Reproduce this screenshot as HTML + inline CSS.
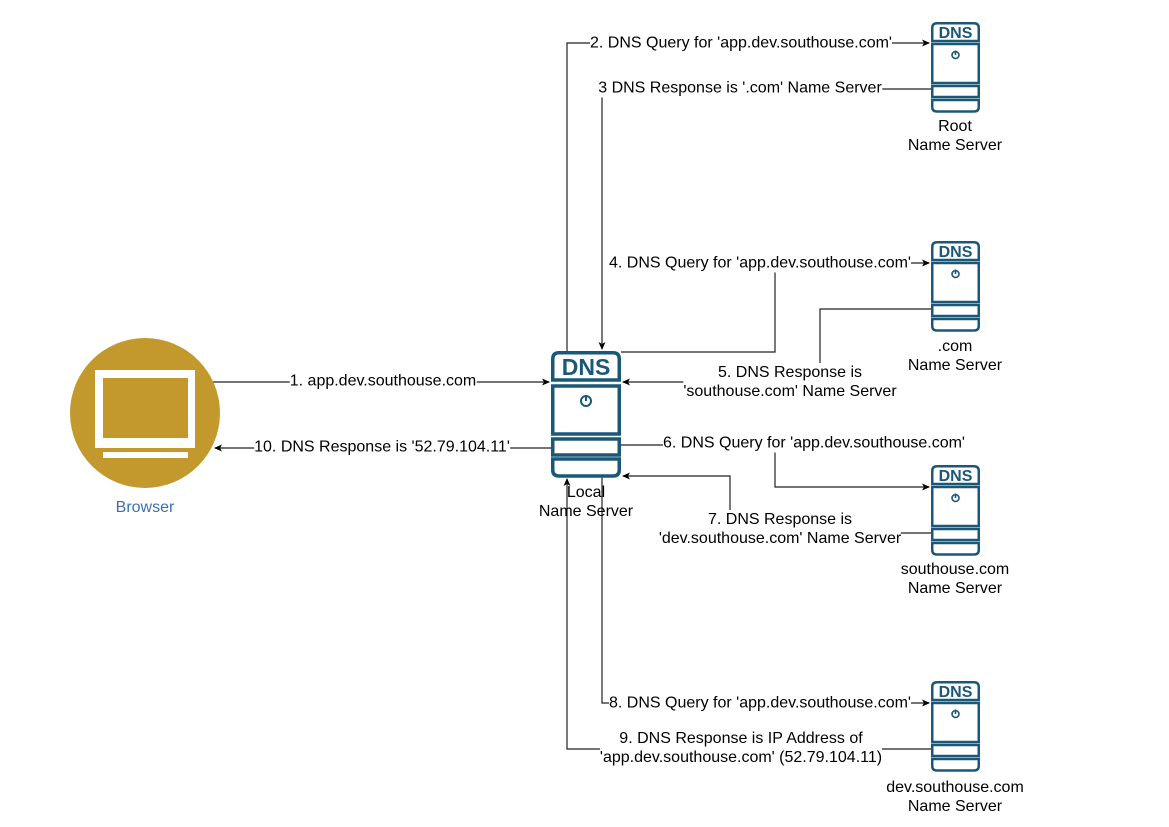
<!DOCTYPE html>
<html><head><meta charset="utf-8"><style>
body{margin:0;background:#fff;}
.wrap{position:relative;width:1169px;height:827px;overflow:hidden;font-family:"Liberation Sans",Arial,sans-serif;}
.t{position:absolute;font-size:16px;line-height:19px;color:#000;background:#fff;white-space:nowrap;text-align:center;transform:translate(-50%,-50%);}
.n{position:absolute;font-size:16px;line-height:19px;color:#000;white-space:nowrap;text-align:center;transform:translateX(-50%);}
</style></head><body><div class="wrap">
<svg width="1169" height="827" style="position:absolute;left:0;top:0">
<defs><marker id="a" markerWidth="8" markerHeight="8" refX="7" refY="4" orient="auto" markerUnits="userSpaceOnUse"><path d="M0,0.5 L8,4 L0,7.5 L2,4 Z" fill="#000"/></marker></defs>
<g fill="none" stroke="#222" stroke-width="1.2">
<polyline points="212,382 549,382" marker-end="url(#a)"/>
<polyline points="551,448 215,448" marker-end="url(#a)"/>
<polyline points="567,351 567,43 929,43" marker-end="url(#a)"/>
<polyline points="931,89 602,89 602,349" marker-end="url(#a)"/>
<polyline points="621,352 775,352 775,263 929,263" marker-end="url(#a)"/>
<polyline points="931,309 820,309 820,382 623,382" marker-end="url(#a)"/>
<polyline points="621,445 775,445 775,487 929,487" marker-end="url(#a)"/>
<polyline points="931,533 730,533 730,476 623,476" marker-end="url(#a)"/>
<polyline points="602,477 602,703 929,703" marker-end="url(#a)"/>
<polyline points="931,749 567,749 567,479" marker-end="url(#a)"/>
</g>
<circle cx="145" cy="413" r="75" fill="#c3992d"/>
<rect x="95" y="370" width="100" height="78" fill="#fff"/>
<rect x="103" y="378" width="85" height="60" fill="#c3992d"/>
<rect x="103" y="452" width="85" height="6" fill="#fff"/>
<g transform="translate(551,351)" fill="#fff" stroke="#1b5877" stroke-width="3.5">
<path d="M1.75,29 L1.75,8 Q1.75,1.75 8,1.75 L62,1.75 Q68.25,1.75 68.25,8 L68.25,29 Z"/>
<rect x="1.75" y="35" width="66.5" height="48"/>
<rect x="1.75" y="88" width="66.5" height="16"/>
<path d="M1.75,108 L68.25,108 L68.25,119 Q68.25,125 62,125 L8,125 Q1.75,125 1.75,119 Z"/>
<circle cx="35" cy="50" r="5" stroke-width="2"/>
<line x1="35" y1="44" x2="35" y2="50" stroke-width="2"/>
<text x="35" y="24" text-anchor="middle" font-family="Liberation Sans,Arial,sans-serif" font-weight="bold" font-size="23" fill="#1b5877" stroke="none">DNS</text>
</g>
<g transform="translate(931,22)" fill="#fff" stroke="#1b5877" stroke-width="2.5">
<path d="M1.25,19 L1.25,6 Q1.25,1.25 6,1.25 L43,1.25 Q47.75,1.25 47.75,6 L47.75,19 Z"/>
<rect x="1.25" y="22" width="46.5" height="39"/>
<rect x="1.25" y="64" width="46.5" height="11"/>
<path d="M1.25,78 L47.75,78 L47.75,85 Q47.75,89.5 43,89.5 L6,89.5 Q1.25,89.5 1.25,85 Z"/>
<circle cx="24.5" cy="33" r="3.5" stroke-width="1.6"/>
<line x1="24.5" y1="28.5" x2="24.5" y2="33" stroke-width="1.6"/>
<text x="24.5" y="16" text-anchor="middle" font-family="Liberation Sans,Arial,sans-serif" font-weight="bold" font-size="16" fill="#1b5877" stroke="none">DNS</text>
</g>
<g transform="translate(931,241)" fill="#fff" stroke="#1b5877" stroke-width="2.5">
<path d="M1.25,19 L1.25,6 Q1.25,1.25 6,1.25 L43,1.25 Q47.75,1.25 47.75,6 L47.75,19 Z"/>
<rect x="1.25" y="22" width="46.5" height="39"/>
<rect x="1.25" y="64" width="46.5" height="11"/>
<path d="M1.25,78 L47.75,78 L47.75,85 Q47.75,89.5 43,89.5 L6,89.5 Q1.25,89.5 1.25,85 Z"/>
<circle cx="24.5" cy="33" r="3.5" stroke-width="1.6"/>
<line x1="24.5" y1="28.5" x2="24.5" y2="33" stroke-width="1.6"/>
<text x="24.5" y="16" text-anchor="middle" font-family="Liberation Sans,Arial,sans-serif" font-weight="bold" font-size="16" fill="#1b5877" stroke="none">DNS</text>
</g>
<g transform="translate(931,465)" fill="#fff" stroke="#1b5877" stroke-width="2.5">
<path d="M1.25,19 L1.25,6 Q1.25,1.25 6,1.25 L43,1.25 Q47.75,1.25 47.75,6 L47.75,19 Z"/>
<rect x="1.25" y="22" width="46.5" height="39"/>
<rect x="1.25" y="64" width="46.5" height="11"/>
<path d="M1.25,78 L47.75,78 L47.75,85 Q47.75,89.5 43,89.5 L6,89.5 Q1.25,89.5 1.25,85 Z"/>
<circle cx="24.5" cy="33" r="3.5" stroke-width="1.6"/>
<line x1="24.5" y1="28.5" x2="24.5" y2="33" stroke-width="1.6"/>
<text x="24.5" y="16" text-anchor="middle" font-family="Liberation Sans,Arial,sans-serif" font-weight="bold" font-size="16" fill="#1b5877" stroke="none">DNS</text>
</g>
<g transform="translate(931,681)" fill="#fff" stroke="#1b5877" stroke-width="2.5">
<path d="M1.25,19 L1.25,6 Q1.25,1.25 6,1.25 L43,1.25 Q47.75,1.25 47.75,6 L47.75,19 Z"/>
<rect x="1.25" y="22" width="46.5" height="39"/>
<rect x="1.25" y="64" width="46.5" height="11"/>
<path d="M1.25,78 L47.75,78 L47.75,85 Q47.75,89.5 43,89.5 L6,89.5 Q1.25,89.5 1.25,85 Z"/>
<circle cx="24.5" cy="33" r="3.5" stroke-width="1.6"/>
<line x1="24.5" y1="28.5" x2="24.5" y2="33" stroke-width="1.6"/>
<text x="24.5" y="16" text-anchor="middle" font-family="Liberation Sans,Arial,sans-serif" font-weight="bold" font-size="16" fill="#1b5877" stroke="none">DNS</text>
</g>
</svg>
<div class="t" style="left:383px;top:381px">1. app.dev.southouse.com</div>
<div class="t" style="left:382px;top:447px">10. DNS Response is '52.79.104.11'</div>
<div class="t" style="left:741px;top:43px">2. DNS Query for 'app.dev.southouse.com'</div>
<div class="t" style="left:740px;top:88px">3 DNS Response is '.com' Name Server</div>
<div class="t" style="left:760px;top:263px">4. DNS Query for 'app.dev.southouse.com'</div>
<div class="t" style="left:790px;top:382px">5. DNS Response is<br>'southouse.com' Name Server</div>
<div class="t" style="left:814px;top:443px">6. DNS Query for 'app.dev.southouse.com'</div>
<div class="t" style="left:780px;top:529px">7. DNS Response is<br>'dev.southouse.com' Name Server</div>
<div class="t" style="left:760px;top:703px">8. DNS Query for 'app.dev.southouse.com'</div>
<div class="t" style="left:741px;top:748px">9. DNS Response is IP Address of<br>'app.dev.southouse.com' (52.79.104.11)</div>
<div class="n" style="left:586px;top:483px">Local<br>Name Server</div>
<div class="n" style="left:955px;top:117px">Root<br>Name Server</div>
<div class="n" style="left:955px;top:337px">.com<br>Name Server</div>
<div class="n" style="left:955px;top:560px">southouse.com<br>Name Server</div>
<div class="n" style="left:955px;top:778px">dev.southouse.com<br>Name Server</div>
<div class="n" style="left:145px;top:498px;color:#3b6fb3">Browser</div>
</div></body></html>
